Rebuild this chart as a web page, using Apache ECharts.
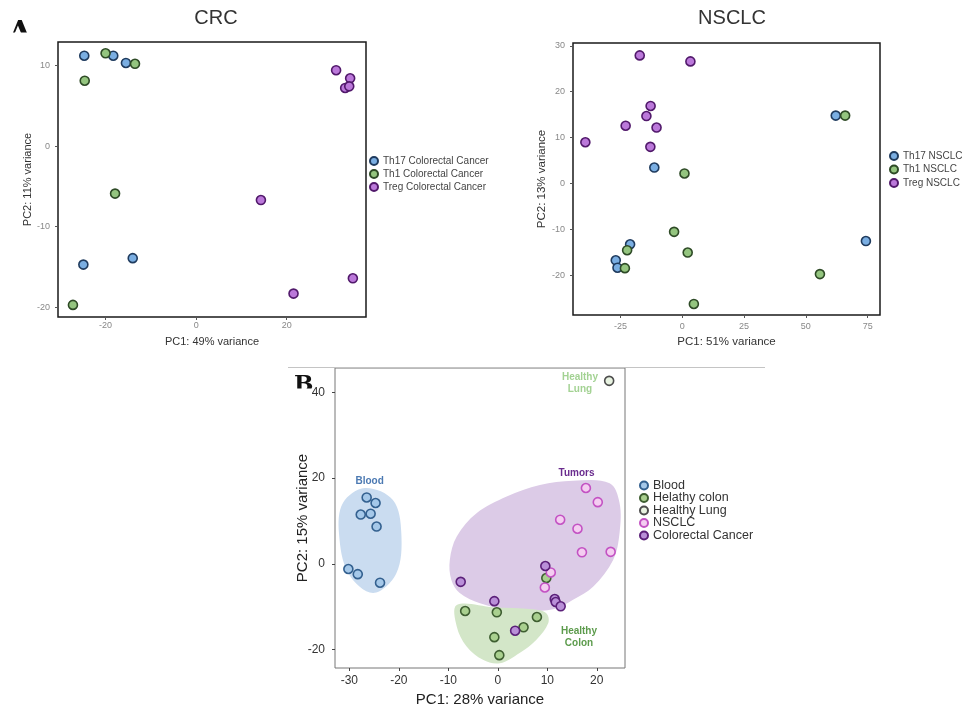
<!DOCTYPE html>
<html>
<head>
<meta charset="utf-8">
<script src="https://cdn.jsdelivr.net/npm/echarts@6/dist/echarts.min.js"></script>
<style>
  html, body { margin: 0; padding: 0; background: #fff; }
  #chart { width: 967px; height: 711px; }
</style>
</head>
<body>
<div id="chart"></div>
<script>
// ---- Panel A, CRC: PC1 / PC2 scores per sample ----
const crcTh17 = [[-24.7, 11.2], [-18.3, 11.2], [-15.5, 10.3], [-24.9, -14.7], [-14.0, -13.9]];
const crcTh1 = [[-20.0, 11.5], [-13.5, 10.2], [-24.6, 8.1], [-17.9, -5.9], [-27.2, -19.7]];
const crcTreg = [[30.9, 9.4], [34.0, 8.4], [32.9, 7.2], [33.8, 7.4], [14.3, -6.7], [21.5, -18.3], [34.6, -16.4]];
const crcXTicks = [-20, 0, 20];
const crcYTicks = [-20, -10, 0, 10];

// ---- Panel A, NSCLC ----
const nsTh17 = [[-11.3, 3.5], [62.1, 14.8], [74.3, -12.5], [-21.1, -13.2], [-26.9, -16.7], [-26.2, -18.3]];
const nsTh1 = [[0.9, 2.2], [65.9, 14.8], [-3.3, -10.5], [2.2, -15.0], [-22.3, -14.5], [-23.2, -18.4], [55.7, -19.7], [4.7, -26.2]];
const nsTreg = [[-17.2, 27.9], [3.3, 26.6], [-12.8, 16.9], [-14.5, 14.7], [-22.9, 12.6], [-10.4, 12.2], [-39.2, 9.0], [-12.9, 8.0]];
const nsXTicks = [-25, 0, 25, 50, 75];
const nsYTicks = [-20, -10, 0, 10, 20, 30];

// ---- Panel B, all tissues ----
const bBlood = [[-26.5, 15.5], [-24.7, 14.2], [-27.7, 11.5], [-25.7, 11.7], [-24.5, 8.7], [-30.2, -1.2], [-28.3, -2.4], [-23.8, -4.4]];
const bColon = [[-6.6, -11.0], [-0.2, -11.3], [-0.7, -17.1], [0.3, -21.3], [5.2, -14.8], [7.9, -12.4], [9.8, -3.3]];
const bLung = [[22.5, 42.7]];
const bNsclc = [[17.8, 17.7], [20.2, 14.4], [12.6, 10.3], [16.1, 8.2], [17.0, 2.7], [22.8, 2.8], [10.7, -2.0], [9.5, -5.5]];
const bCrc = [[-7.5, -4.2], [-0.7, -8.7], [9.6, -0.5], [11.5, -8.2], [11.7, -8.9], [12.7, -9.9], [3.5, -15.6]];
const bXTicks = [-30, -20, -10, 0, 10, 20];
const bYTicks = [-20, 0, 20, 40];

// group outlines in panel B (PC1, PC2)
const hullBlood = [[-26.9, 17.7], [-21.2, 14.9], [-19.5, 7.2], [-20.5, -2.2], [-25.2, -6.8], [-30.2, -2.2], [-32.1, 7.2], [-31.3, 14.2]];
const hullTumors = [[15.2, 19.4], [22.6, 18.8], [24.6, 14.2], [24.6, 7.2], [23.3, 0.9], [19.3, -5.3], [15.2, -8.4], [11.2, -10.6],
  [3.1, -10.9], [-3.6, -9.2], [-7.7, -6.8], [-9.4, -3.7], [-9.7, 0.9], [-8.3, 6.4], [-4.3, 11.8], [1.8, 15.7], [8.5, 18.4]];
const hullColon = [[-8.3, -9.6], [-0.9, -10.1], [7.1, -10.6], [9.8, -11.5], [10.2, -13.8], [7.8, -17.7], [4.4, -20.8],
  [0.4, -23.2], [-3.0, -22.4], [-6.3, -19.3], [-8.3, -14.6]];

// group captions in panel B
const groupTags = [
  { text: 'Blood', at: [-25.9, 19.2], color: '#4b79b2' },
  { text: 'Tumors', at: [15.9, 21.2], color: '#6a2c8e' },
  { text: 'Healthy\nColon', at: [16.4, -17.1], color: '#5c9b4c' },
  { text: 'Healthy\nLung', at: [16.6, 42.2], color: '#a3d293' }
];

const FONT = '"Liberation Sans", Arial, sans-serif';

function pts(name, data, fill, stroke, xi, size) {
  return {
    name, type: 'scatter', data, xAxisIndex: xi, yAxisIndex: xi,
    symbol: 'circle', symbolSize: size || 9, z: 5,
    itemStyle: { color: fill, borderColor: stroke, borderWidth: 1.6, opacity: 1 },
    emphasis: { disabled: true }
  };
}

function hull(points, fill) {
  return {
    type: 'custom', xAxisIndex: 2, yAxisIndex: 2, data: [0], z: 1, silent: true, clip: false,
    renderItem: (params, api) => ({
      type: 'polygon',
      shape: { points: points.map(p => api.coord(p)), smooth: 0.35 },
      style: { fill }
    })
  };
}

function axis(grid, min, max, ticks, name, o) {
  return {
    type: 'value', gridIndex: grid, min, max, name, nameLocation: 'middle', nameGap: o.nameGap,
    nameMoveOverlap: o.moveOverlap !== false,
    nameTextStyle: { fontFamily: FONT, fontSize: o.nameSize, color: o.nameColor },
    splitLine: { show: false },
    axisLine: { show: false, onZero: false },
    axisTick: { show: true, inside: false, length: 3, lineStyle: { color: o.tickColor }, customValues: ticks },
    axisLabel: { customValues: ticks, margin: o.labelMargin, fontFamily: FONT, fontSize: o.labelSize, color: o.labelColor }
  };
}

const crcStyle = { nameGap: 19, nameSize: 11, nameColor: '#333', tickColor: '#555', labelMargin: 4, labelSize: 9, labelColor: '#888' };
const crcYStyle = Object.assign({}, crcStyle, { nameGap: 25, labelMargin: 8 });
const nsStyle = { nameGap: 21, nameSize: 11.5, nameColor: '#333', tickColor: '#555', labelMargin: 7, labelSize: 9, labelColor: '#888' };
const nsYStyle = Object.assign({}, nsStyle, { nameGap: 25, labelMargin: 8 });
const bStyle = { nameGap: 24, nameSize: 15, nameColor: '#222', tickColor: '#444', labelMargin: 7, labelSize: 12, labelColor: '#333' };
const bYStyle = Object.assign({}, bStyle, { nameGap: 24.5, labelMargin: 10, moveOverlap: false });

const legendText = (size, lh, color) => ({ fontFamily: FONT, fontSize: size, lineHeight: lh, color });

const chart = echarts.init(document.getElementById('chart'), null, { renderer: 'canvas' });

chart.setOption({
  backgroundColor: '#fff',
  animation: false,
  textStyle: { fontFamily: FONT },
  title: [
    { text: 'CRC', left: 211, top: 3, textAlign: 'center', textStyle: { fontFamily: FONT, fontSize: 20, fontWeight: 'normal', color: '#333' } },
    { text: 'NSCLC', left: 727, top: 3, textAlign: 'center', textStyle: { fontFamily: FONT, fontSize: 20, fontWeight: 'normal', color: '#333' } }
  ],
  grid: [
    { left: 58, top: 42, width: 308, height: 275, show: true, borderColor: '#1a1a1a', borderWidth: 1.5, backgroundColor: 'transparent' },
    { left: 573, top: 43, width: 307, height: 272, show: true, borderColor: '#1a1a1a', borderWidth: 1.5, backgroundColor: 'transparent' },
    { left: 335, top: 368, width: 290, height: 300, show: true, borderColor: '#777', borderWidth: 1, backgroundColor: 'transparent' }
  ],
  xAxis: [
    axis(0, -30.5, 37.5, crcXTicks, 'PC1: 49% variance', crcStyle),
    axis(1, -44.2, 80.0, nsXTicks, 'PC1: 51% variance', nsStyle),
    axis(2, -32.9, 25.7, bXTicks, 'PC1: 28% variance', bStyle)
  ],
  yAxis: [
    axis(0, -21.2, 12.9, crcYTicks, 'PC2: 11% variance', crcYStyle),
    axis(1, -28.6, 30.6, nsYTicks, 'PC2: 13% variance', nsYStyle),
    axis(2, -24.3, 45.7, bYTicks, 'PC2: 15% variance', bYStyle)
  ],
  legend: [
    {
      orient: 'vertical', left: 369, top: 156, padding: 0, itemWidth: 8, itemHeight: 8, itemGap: 3, itemTextGap: 1, icon: 'circle',
      selectedMode: false, textStyle: legendText(10, 10, '#444'),
      data: ['Th17 Colorectal Cancer', 'Th1 Colorectal Cancer', 'Treg Colorectal Cancer']
    },
    {
      orient: 'vertical', left: 889, top: 151, padding: 0, itemWidth: 8, itemHeight: 8, itemGap: 3.5, itemTextGap: 2, icon: 'circle',
      selectedMode: false, textStyle: legendText(10, 10, '#444'),
      data: ['Th17 NSCLC', 'Th1 NSCLC', 'Treg NSCLC']
    },
    {
      orient: 'vertical', left: 639, top: 479, padding: 0, itemWidth: 8, itemHeight: 8, itemGap: -0.5, itemTextGap: 4.5, icon: 'circle',
      selectedMode: false, textStyle: legendText(12.5, 12.4, '#333'),
      data: ['Blood', 'Helathy colon', 'Healthy Lung', 'NSCLC', 'Colorectal Cancer']
    }
  ],
  series: [
    pts('Th17 Colorectal Cancer', crcTh17, '#7aaee2', '#1f3b5e', 0),
    pts('Th1 Colorectal Cancer', crcTh1, '#94c57f', '#2e4a26', 0),
    pts('Treg Colorectal Cancer', crcTreg, '#bb78da', '#51196b', 0),

    pts('Th17 NSCLC', nsTh17, '#7aaee2', '#1f3b5e', 1),
    pts('Th1 NSCLC', nsTh1, '#94c57f', '#2e4a26', 1),
    pts('Treg NSCLC', nsTreg, '#bb78da', '#51196b', 1),

    hull(hullBlood, '#cadcf0'),
    hull(hullTumors, '#dccbe7'),
    hull(hullColon, '#d3e6c8'),
    {
      type: 'custom', xAxisIndex: 2, yAxisIndex: 2, data: groupTags.map((g, i) => i), z: 6, silent: true, clip: false,
      renderItem: (params, api) => {
        const g = groupTags[params.dataIndex];
        const c = api.coord(g.at);
        return {
          type: 'text', x: c[0], y: c[1],
          style: { text: g.text, fill: g.color, font: 'bold 10px ' + FONT, align: 'center', verticalAlign: 'middle', lineHeight: 11.5 }
        };
      }
    },
    pts('Blood', bBlood, '#a5c8e9', '#33608f', 2, 9),
    pts('Helathy colon', bColon, '#a9d08f', '#3e5e31', 2, 9),
    pts('Healthy Lung', bLung, '#e8f3e1', '#4d4d4d', 2, 9),
    pts('NSCLC', bNsclc, '#f4cdf1', '#c352c3', 2, 9),
    pts('Colorectal Cancer', bCrc, '#b98fd8', '#5b2079', 2, 9)
  ],
  graphic: [
    // panel letters; their lower halves sit under the panels
    { type: 'text', left: 8, top: 19, z: 10, style: { text: 'A', font: 'bold 31px "DejaVu Serif", serif', fill: '#111' } },
    { type: 'rect', shape: { x: 3, y: 32.5, width: 32, height: 16 }, z: 11, style: { fill: '#fff' } },
    { type: 'text', left: 294, top: 374, z: 10, style: { text: 'B', font: 'bold 23px "DejaVu Serif", serif', fill: '#111' } },
    { type: 'rect', shape: { x: 289, y: 388.5, width: 23, height: 12 }, z: 11, style: { fill: '#fff' } },
    // rule along the top of panel B
    { type: 'line', shape: { x1: 288, y1: 367.5, x2: 765, y2: 367.5 }, z: 12, style: { stroke: '#c4c4c4', lineWidth: 1 } }
  ]
});
</script>
</body>
</html>
